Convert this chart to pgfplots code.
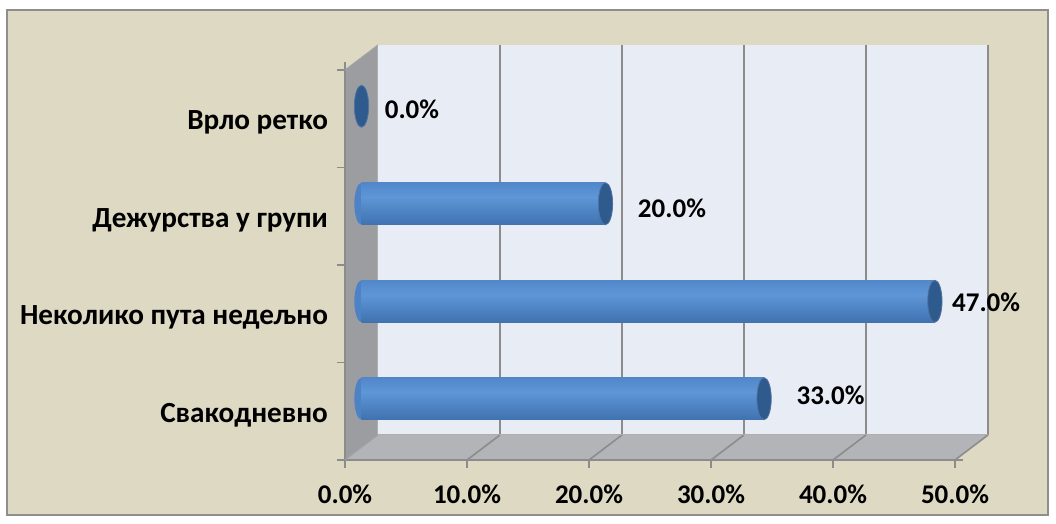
\documentclass[border=0pt]{standalone}
\usepackage{fontspec}
\setmainfont{Carlito}
\usepackage{pgfplots}
\usepackage{pgfplotstable}
\pgfplotsset{compat=1.18}
\definecolor{bg}{HTML}{DDD9C3}
\definecolor{bordergray}{HTML}{8E8E8E}
\definecolor{gridgray}{HTML}{8C8C8C}
\definecolor{backwall}{HTML}{E8ECF5}
\definecolor{sidewall}{HTML}{9C9DA1}
\definecolor{floorc}{HTML}{B2B4B8}
\definecolor{barT}{HTML}{3C6CA8}
\definecolor{barM}{HTML}{4D82C4}
\definecolor{barL}{HTML}{5E96D7}
\definecolor{barB}{HTML}{3566A2}
\definecolor{barD}{HTML}{21426B}
\definecolor{capc}{HTML}{2F5A8E}
\pgfdeclareverticalshading{cyl}{100bp}{color(0bp)=(barD); color(14bp)=(barB); color(58bp)=(barL); color(82bp)=(barM); color(100bp)=(barT)}
\newcommand\lab{\fontsize{13.5pt}{16pt}\selectfont\bfseries}
\newcommand\cat{\fontsize{14.6pt}{17pt}\selectfont\bfseries}
\pgfplotstableread{
y val
0 33
1 47
2 20
3 0
}\datatable
\pgfplotsset{barax/.style={anchor=south west, scale only axis,
  width=305pt, height=195pt,
  xmin=0, xmax=50, ymin=-0.5, ymax=3.5, clip=false, hide axis}}
\begin{document}
\begin{tikzpicture}
\path[use as bounding box] (0,0) rectangle (528pt,262pt);
\fill[bg, draw=bordergray, line width=0.8pt] (3.5pt,4.5pt) rectangle (524pt,257pt);
\begin{axis}[at={(172.5pt,32pt)}, anchor=south west, scale only axis,
  width=305pt, height=195pt,
  xmin=0, xmax=50, ymin=-0.5, ymax=3.5, clip=false,
  tick align=outside, major tick length=4pt, minor tick length=4pt,
  xtick={0,10,20,30,40,50},
  xticklabels={0.0\%,10.0\%,20.0\%,30.0\%,40.0\%,50.0\%},
  ytick={0,1,2,3},
  yticklabels={Свакодневно,Неколико пута недељно,Дежурства у групи,Врло ретко},
  minor ytick={-0.5,0.5,1.5,2.5,3.5},
  major x tick style={draw=gridgray, line width=0.8pt},
  major y tick style={draw=none},
  minor y tick style={draw=gridgray, line width=0.8pt},
  minor x tick style={draw=none},
  xticklabel style={font=\lab, yshift=-5pt},
  yticklabel style={font=\cat, xshift=-1pt, yshift=-2pt},
  x axis line style={draw=none}, y axis line style={draw=none},
]
% 3D walls (decoration)
\fill[backwall] (axis cs:2.705,-0.2436) rectangle (axis cs:52.705,3.7564);
\fill[sidewall] (axis cs:0,3.5) -- (axis cs:2.705,3.7564) -- (axis cs:2.705,-0.2436) -- (axis cs:0,-0.5) -- cycle;
\fill[floorc] (axis cs:0,-0.5) -- (axis cs:2.705,-0.2436) -- (axis cs:52.705,-0.2436) -- (axis cs:50,-0.5) -- cycle;
\pgfplotsinvokeforeach{10,20,30,40,50}{
  \draw[gridgray, line width=0.8pt] (axis cs:#1+2.705,-0.2436) -- (axis cs:#1+2.705,3.7564);
  \draw[gridgray, line width=0.8pt] (axis cs:#1,-0.5) -- (axis cs:#1+2.705,-0.2436);
}
\draw[gridgray!70, line width=0.5pt] (axis cs:2.705,3.7564) -- (axis cs:2.705,-0.2436) -- (axis cs:52.705,-0.2436);
\draw[gridgray, line width=0.8pt] (axis cs:0,3.5) -- (axis cs:0,-0.5) -- (axis cs:50,-0.5);
\draw[gridgray!80, line width=0.5pt] (axis cs:0,3.5) -- (axis cs:2.705,3.7564);
\draw[gridgray!80, line width=0.5pt] (axis cs:0,-0.5) -- (axis cs:2.705,-0.2436);
% value labels
\addplot[only marks, mark=none, nodes near coords, point meta=explicit symbolic,
  nodes near coords style={anchor=center, font=\lab, text=black}]
  coordinates {(5.49,3.1) [0.0\%] (26.8,2.085) [20.0\%] (52.55,1.12) [47.0\%] (39.8,0.167) [33.0\%]};
\end{axis}
% left rounded ends of the cylinders
\begin{axis}[barax, at={(180.75pt,38.25pt)}]
\addplot[only marks, mark=*, mark size=10.5pt, draw opacity=0,
  mark options={xscale=0.34, draw opacity=0, fill=barM, shading=cyl},
  skip coords between index={3}{4}]
  table[x expr=0, y=y] {\datatable};
\end{axis}
% cylinder bodies and end caps
\begin{axis}[barax, at={(180.75pt,38.25pt)}]
\addplot[xbar, bar shift=0pt, bar width=21pt, draw=none, shading=cyl,
  restrict y to domain=-0.1:0.1] table[x=val, y=y] {\datatable};
\addplot[xbar, bar shift=0pt, bar width=21pt, draw=none, shading=cyl,
  restrict y to domain=0.9:1.1] table[x=val, y=y] {\datatable};
\addplot[xbar, bar shift=0pt, bar width=21pt, draw=none, shading=cyl,
  restrict y to domain=1.9:2.1] table[x=val, y=y] {\datatable};
\addplot[only marks, mark=*, mark size=10.5pt,
  mark options={xscale=0.34, draw=capc!85!white, line width=0.4pt, fill=capc}]
  table[x=val, y=y] {\datatable};
\end{axis}
\end{tikzpicture}
\end{document}
